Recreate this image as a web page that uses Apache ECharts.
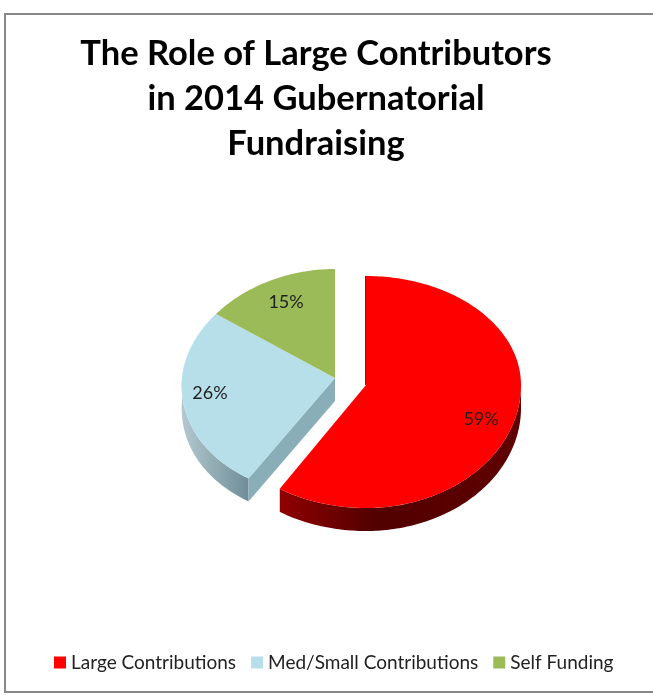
<!DOCTYPE html>
<html><head><meta charset="utf-8">
<style>html,body{margin:0;padding:0;background:#fff}#c{width:653px;height:697px}</style>
<script src="https://cdn.jsdelivr.net/npm/echarts@6/dist/echarts.min.js"></script>
</head><body><div id="c"></div>
<script>
var categories = ['Large Contributions', 'Med/Small Contributions', 'Self Funding'];
var values = [59, 26, 15];
var labels = ['59%', '26%', '15%'];
var colors = ['#ff0000', '#b7dfea', '#9bbb59'];
var titleText = 'The Role of Large Contributors\nin 2014 Gubernatorial\nFundraising';

var total = values.reduce(function (a, b) { return a + b; }, 0);
var RY_BACK = 109, DEPTH = 23;
var radiusX = [155, 153, 153];
var radiusFront = [123, 119, 119];
var skew = [7, 10, 10];
var apexes = [[366, 385], [335, 378], [335, 378]];
var labelFractions = [[0.773, 0.99], [0.832, 0.70], [0.705, 0.78]];
var wallStops = [
  [{ offset: 0, color: '#8f0000' }, { offset: 0.4, color: '#520000' }, { offset: 1, color: '#600000' }],
  [{ offset: 0, color: '#b4c9cf' }, { offset: 1, color: '#6f8e99' }],
  [{ offset: 0, color: '#7f994a' }, { offset: 1, color: '#7f994a' }]
];

function pt(i, deg, dy) {
  var a = apexes[i], t = deg * Math.PI / 180, c = Math.cos(t), s = Math.sin(t);
  var shear = s < 0 ? -skew[i] * c * s : 0;
  return [a[0] + radiusX[i] * s + shear, a[1] - c * (c > 0 ? RY_BACK : radiusFront[i]) + (dy || 0)];
}
function arc(i, from, to, dy) {
  var out = [], n = Math.max(2, Math.ceil(Math.abs(to - from)));
  for (var k = 0; k <= n; k++) out.push(pt(i, from + (to - from) * k / n, dy));
  return out;
}
function sliceRender(idx) {
  return function () {
    var before = 0;
    for (var i = 0; i < idx; i++) before += values[i];
    var s = before / total * 360, e = (before + values[idx]) / total * 360, mid = (s + e) / 2;
    var a = apexes[idx], kids = [];
    var ws = Math.max(s, 90), we = Math.min(e, 270);
    if (we > ws) {
      kids.push({ type: 'polygon', shape: { points: arc(idx, ws, we, 0).concat(arc(idx, we, ws, DEPTH)) }, style: {
        fill: { type: 'linear', x: 0, y: 0, x2: 1, y2: 0, colorStops: wallStops[idx] }
      } });
    }
    if (idx === 1) {
      var o = pt(idx, s, 0);
      kids.push({ type: 'polygon', shape: { points: [[a[0], a[1]], o, [o[0], o[1] + DEPTH], [a[0], a[1] + DEPTH]] }, style: { fill: '#8aaeb8' } });
    }
    if (idx === 0) {
      var p = pt(idx, s, 0);
      kids.push({ type: 'line', shape: { x1: a[0] - 0.5, y1: a[1], x2: p[0] - 0.5, y2: p[1] }, style: { stroke: '#c00000', lineWidth: 1 } });
    }
    kids.push({ type: 'polygon', shape: { points: [[a[0], a[1]]].concat(arc(idx, s, e, 0)) }, style: { fill: colors[idx] } });
    var t = mid * Math.PI / 180, c = Math.cos(t), f = labelFractions[idx];
    kids.push({ type: 'text', style: {
      x: a[0] + radiusX[idx] * Math.sin(t) * f[0],
      y: a[1] - c * (c > 0 ? RY_BACK : radiusFront[idx]) * f[1],
      text: labels[idx], font: '18px Lato', fill: '#1f1f1f', align: 'center', verticalAlign: 'middle'
    } });
    return { type: 'group', children: kids };
  };
}

var chart = echarts.init(document.getElementById('c'), null, { renderer: 'canvas' });
chart.setOption({
  animation: false,
  backgroundColor: '#fff',
  title: { text: titleText, left: 311, top: 26, textAlign: 'center',
    textStyle: { fontFamily: 'Lato', fontWeight: 'bold', fontSize: 34.5, lineHeight: 45, color: '#000' } },
  legend: { data: categories, left: 49, top: 648, itemWidth: 12, itemHeight: 12, itemGap: 15, icon: 'rect',
    textStyle: { fontFamily: 'Lato', fontSize: 19, color: '#222' } },
  graphic: [{ type: 'rect', silent: true, z: -1, shape: { x: 5, y: 14, width: 660, height: 678 },
    style: { fill: 'none', stroke: '#888', lineWidth: 2 } }],
  series: categories.map(function (name, i) {
    return { type: 'custom', name: name, coordinateSystem: 'none', silent: true,
      itemStyle: { color: colors[i] }, renderItem: sliceRender(i), data: [values[i]] };
  })
});
</script></body></html>
